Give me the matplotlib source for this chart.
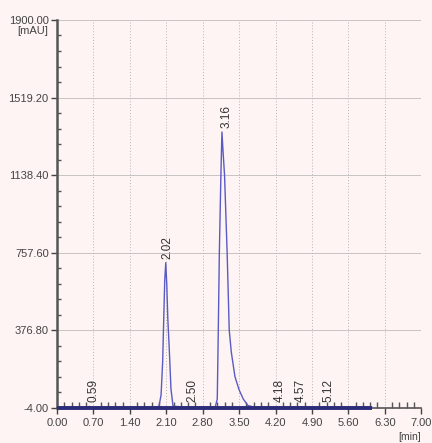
import matplotlib
matplotlib.use('Agg')
from matplotlib import pyplot as plt
from matplotlib.ticker import MultipleLocator, FixedLocator
import numpy as np

# chromatogram trace (time in min, signal in mAU)
time_min = [0.00, 0.58, 0.62, 0.66, 1.90, 1.96, 2.00, 2.03, 2.05, 2.07, 2.09,
            2.11, 2.13, 2.155, 2.19, 2.23, 2.48, 2.52, 2.56, 3.04, 3.08, 3.10,
            3.12, 3.15, 3.17, 3.19, 3.22, 3.27, 3.31, 3.35, 3.42, 3.50,
            3.58, 3.67, 3.80, 4.16, 4.20, 4.24, 4.55, 4.59, 4.63, 5.10, 5.14,
            5.18, 6.05]
signal_mau = [0, 0, 4, 0, 0, 5, 60, 220, 420, 620, 709, 600, 430, 300, 90, 5,
              0, 3, 0, 0, 40, 380, 757, 1140, 1350, 1260, 1138, 757, 378,
              270, 150, 85, 40, 8, 0, 0, 3, 0, 0, 3, 0, 0, 3, 0, 0]

# peak labels (retention time, height of label foot)
peak_rt = [0.59, 2.02, 2.50, 3.16, 4.18, 4.57, 5.12]
peak_lab_y = [10, 712, 10, 1355, 10, 10, 10]

y_ticks = [-4.00, 376.80, 757.60, 1138.40, 1519.20, 1900.00]
x_ticks = [0.00, 0.70, 1.40, 2.10, 2.80, 3.50, 4.20, 4.90, 5.60, 6.30, 7.00]

bg = '#fdf4f3'
plt.rcParams['font.family'] = ['Liberation Sans Narrow', 'Liberation Sans', 'DejaVu Sans']

fig = plt.figure(figsize=(4.32, 4.43), dpi=100, facecolor=bg)
ax = fig.add_axes([0.132, 0.079, 0.843, 0.876], facecolor=bg)

ax.set_xlim(0, 7.0)
ax.set_ylim(-4.0, 1900.0)

# grid: solid horizontal, dotted vertical
for yv in y_ticks[1:]:
    ax.axhline(yv, color='#c8c4c4', lw=0.7, zorder=0)
for xv in x_ticks[1:-1]:
    ax.axvline(xv, color='#b8b4b4', lw=0.7, ls=(0, (1, 2)), zorder=0)

ax.plot(time_min, signal_mau, color='#5a5ac4', lw=1.0, zorder=3)
# baseline drawn thick under the trace
ax.plot([0, time_min[-1]], [-4, -4], color='#2c2c7a', lw=2.8, zorder=4,
        solid_capstyle='butt', clip_on=False)

for rt, yl in zip(peak_rt, peak_lab_y):
    ax.annotate('%.2f' % rt, (rt, yl), xytext=(4, 2), textcoords='offset points',
                rotation=90, ha='center', va='bottom', fontsize=8.5,
                color='#333333', zorder=5)

ax.yaxis.set_major_locator(FixedLocator(y_ticks))
ax.yaxis.set_minor_locator(FixedLocator(
    [a + (b - a) * k / 5 for a, b in zip(y_ticks[:-1], y_ticks[1:]) for k in range(1, 5)]))
ax.set_yticklabels(['%.2f' % v for v in y_ticks])
ax.xaxis.set_major_locator(FixedLocator(x_ticks))
ax.xaxis.set_minor_locator(MultipleLocator(0.14))
ax.set_xticklabels(['%.2f' % v for v in x_ticks])

ax.tick_params(axis='both', which='major', labelsize=8, colors='#444444',
               length=4, width=1.0, direction='out', pad=2)
ax.tick_params(axis='x', which='major', pad=3)
ax.tick_params(axis='y', which='minor', length=3, width=1.0, direction='in',
               colors='#555555')
ax.tick_params(axis='x', which='minor', length=4, width=1.0, direction='in',
               colors='#555555')

for s in ['top', 'right']:
    ax.spines[s].set_visible(False)
ax.spines['left'].set_color('#555555')
ax.spines['left'].set_linewidth(1.8)
ax.spines['bottom'].set_color('#555555')
ax.spines['bottom'].set_linewidth(1.2)

ax.text(-0.025, 0.985, '[mAU]', transform=ax.transAxes, ha='right', va='top',
        fontsize=8, color='#444444')
ax.text(1.0, -0.062, '[min]', transform=ax.transAxes, ha='right', va='top',
        fontsize=7.5, color='#444444')

fig.savefig('out.png', dpi=100, facecolor=bg)
